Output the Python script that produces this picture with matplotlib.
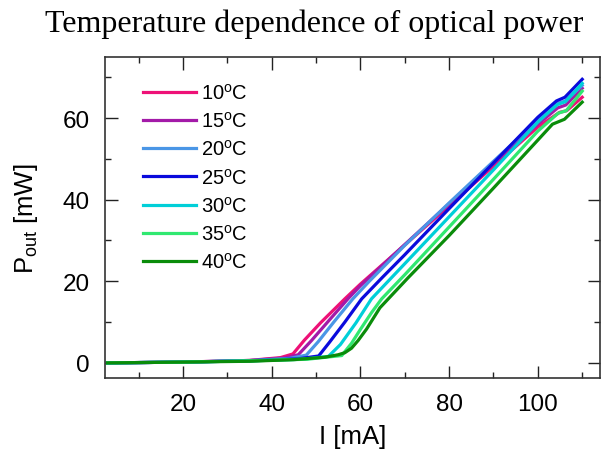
"""temperature dependence of optical power - L-I curves"""

import numpy as np
import matplotlib
matplotlib.use("Agg")
import matplotlib.pyplot as plt
from matplotlib.ticker import MultipleLocator

plt.rcParams['font.family'] = ['Liberation Sans', 'DejaVu Sans']
plt.rcParams['mathtext.fontset'] = 'custom'
plt.rcParams['mathtext.rm'] = 'Liberation Sans'
plt.rcParams['mathtext.it'] = 'Liberation Sans:italic'

#=== data (I in mA, P in mW) ===
temps = [10, 15, 20, 25, 30, 35, 40]

I_10 = [3, 20, 35, 42, 44.8, 47.4, 51, 56.5, 60, 70, 80, 90, 100, 104.9, 106.5, 110]
P_10 = [0, 0.2, 0.6, 1.3, 2.2, 5.6, 9.8, 15.7, 19.3, 28.9, 38.5, 48.2, 57.8, 61.4, 61.8, 65.1]

I_15 = [3, 20, 35, 43, 46, 49, 53, 57.2, 60, 70, 80, 90, 100, 104.5, 106.3, 110]
P_15 = [0, 0.2, 0.6, 1.2, 2.0, 5.5, 10.5, 15.7, 18.9, 29.0, 39.0, 48.8, 58.5, 62.5, 63.2, 67.3]

I_20 = [3, 20, 35, 44, 47.8, 50.5, 54, 58.3, 62, 70, 80, 90, 100, 104.3, 106.2, 110]
P_20 = [0, 0.2, 0.55, 1.1, 1.9, 5.2, 10.0, 15.7, 20, 28.8, 39.2, 49.4, 59.5, 63.5, 64.2, 68.0]

I_25 = [3, 20, 35, 46, 50.6, 53, 56.5, 60.3, 65, 70, 80, 90, 100, 104.2, 106.1, 110]
P_25 = [0, 0.2, 0.5, 1.0, 1.7, 5.0, 10.0, 15.7, 21.0, 26.5, 37.8, 49.0, 60.2, 64.2, 65.1, 69.5]

I_30 = [3, 20, 35, 47, 52.8, 55.5, 59, 62.5, 70, 80, 90, 100, 104.4, 106.2, 110]
P_30 = [0, 0.2, 0.5, 0.9, 1.6, 4.5, 9.8, 15.7, 24.3, 35.8, 47.3, 59.0, 63.3, 64.0, 68.5]

I_35 = [3, 20, 35, 48, 55.8, 58, 60, 62.5, 64.8, 70, 80, 90, 100, 104.6, 106.4, 110]
P_35 = [0, 0.2, 0.5, 0.9, 1.8, 4.8, 8.2, 12.3, 15.7, 21.6, 33.3, 45.0, 56.8, 61.2, 61.8, 66.6]

I_40 = [3, 20, 35, 45, 52, 55, 56.5, 58, 59.5, 61.4, 64.4, 70.7, 80, 89.8, 100, 103.3, 106, 110]
P_40 = [0, 0.2, 0.4, 0.8, 1.4, 2.0, 2.5, 3.6, 5.5, 8.3, 13.5, 20.8, 31.2, 42.6, 54.6, 58.5, 59.7, 63.9]

currents = [I_10, I_15, I_20, I_25, I_30, I_35, I_40]
powers = [P_10, P_15, P_20, P_25, P_30, P_35, P_40]
colors = ['#EE1177', '#A31AA8', '#4A96E6', '#0A0ADC', '#00CFD8', '#30E870', '#0A8C0A']

fig = plt.figure(figsize=(6.06, 4.52), dpi=100)
ax = fig.add_axes([0.173, 0.1615, 0.817, 0.7105])

for T, I, P, c in zip(temps, currents, powers, colors):
    ax.plot(I, P, color=c, lw=2.3, label=r'%d$^\mathrm{o}$C' % T)

ax.set_xlim(2.4, 114)
ax.set_ylim(-3.7, 75)
ax.xaxis.set_major_locator(MultipleLocator(20))
ax.xaxis.set_minor_locator(MultipleLocator(10))
ax.yaxis.set_major_locator(MultipleLocator(20))
ax.yaxis.set_minor_locator(MultipleLocator(10))
ax.tick_params(which='both', direction='in', top=True, right=True,
               width=1, color='#222222')
ax.tick_params(which='major', length=9, labelsize=17.5, pad=11)
ax.tick_params(which='minor', length=4.5)
for s in ax.spines.values():
    s.set_color('#333333')
    s.set_linewidth(1.2)

ax.set_xlabel('I [mA]', fontsize=18.5, va='top')
ax.xaxis.set_label_coords(0.5, -0.143)
ax.set_ylabel(r'P$_\mathrm{out}$ [mW]', fontsize=18.5)
ax.yaxis.set_label_coords(-0.13, 0.5)

fig.text(0.518, 1 - 32 / 452, 'Temperature dependence of optical power',
         ha='center', va='baseline', fontsize=23, family='Liberation Serif')

ax.legend(loc='upper left', bbox_to_anchor=(0.06, 0.945), frameon=False,
          fontsize=14.5, handlelength=2.64, handletextpad=0.25, labelspacing=0.41,
          borderaxespad=0)

plt.savefig('out.png', dpi=100)
